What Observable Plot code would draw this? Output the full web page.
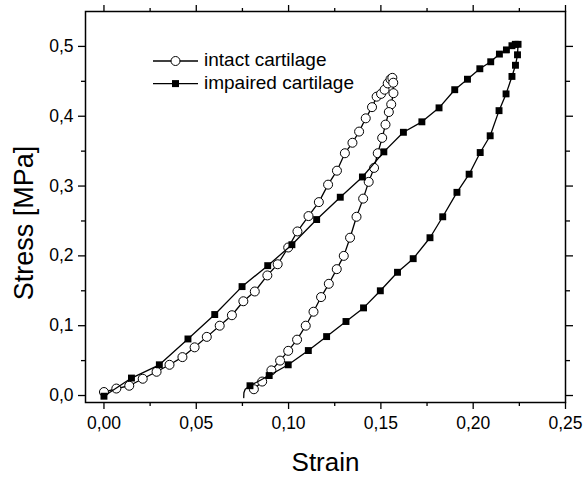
<!DOCTYPE html>
<html><head><meta charset="utf-8">
<script src="https://cdn.jsdelivr.net/npm/d3@7"></script>
<script src="https://cdn.jsdelivr.net/npm/@observablehq/plot@0.6"></script>
<style>body{margin:0;background:#fff;} svg{display:block}</style>
</head><body><div id="chart"></div>
<script>
// Intact cartilage (open circles): loading then unloading
const intactStrain = [0.000,0.0067,0.0137,0.021,0.0285,0.0355,0.0425,0.0491,0.0557,0.0627,0.0693,0.0755,0.0817,0.0885,0.0941,0.0998,0.1048,0.1108,0.1164,0.1214,0.1262,0.1305,0.1346,0.1382,0.1418,0.1452,0.1477,0.1501,0.152,0.1537,0.1552,0.1562,
  0.1567,0.1568,0.1556,0.1543,0.1525,0.1507,0.1483,0.1463,0.1434,0.1404,0.1368,0.1333,0.1299,0.1261,0.1218,0.1176,0.1135,0.1093,0.1046,0.0998,0.0954,0.0907,0.0857,0.0812];
const intactStress = [0.005,0.010,0.014,0.024,0.034,0.044,0.055,0.069,0.084,0.100,0.115,0.135,0.149,0.172,0.188,0.212,0.235,0.257,0.277,0.302,0.322,0.347,0.362,0.378,0.397,0.413,0.428,0.432,0.438,0.447,0.453,0.455,
  0.448,0.433,0.417,0.406,0.388,0.369,0.347,0.326,0.306,0.282,0.256,0.226,0.200,0.181,0.160,0.141,0.120,0.100,0.080,0.064,0.050,0.036,0.020,0.009];
// Impaired cartilage (filled squares): loading then unloading
const impairedStrain = [0.000,0.0149,0.030,0.0455,0.060,0.0748,0.0887,0.1018,0.1152,0.128,0.140,0.1516,0.1622,0.1722,0.1815,0.1900,0.1969,0.2036,0.2095,0.2142,0.2180,0.2210,0.2228,0.2243,
  0.2240,0.2229,0.2210,0.2178,0.2140,0.2092,0.2038,0.1978,0.1912,0.1835,0.1766,0.1675,0.159,0.1497,0.1406,0.1311,0.1206,0.1107,0.0998,0.0895,0.0791];
const impairedStress = [-0.001,0.025,0.044,0.081,0.116,0.156,0.186,0.216,0.252,0.284,0.313,0.349,0.377,0.392,0.412,0.438,0.453,0.468,0.478,0.489,0.495,0.501,0.503,0.503,
  0.488,0.473,0.457,0.432,0.408,0.372,0.348,0.317,0.291,0.256,0.226,0.196,0.1765,0.150,0.1255,0.106,0.0844,0.0644,0.044,0.0286,0.014];
// end of the impaired unloading trace (no symbols)
const impairedTailStrain = [0.0791,0.0765,0.0758,0.0757];
const impairedTailStress = [0.014,0.009,0.004,-0.003];

const xMajor = [0,0.05,0.10,0.15,0.20,0.25];
const xMinor = [0.025,0.075,0.125,0.175,0.225];
const yMajor = [0,0.1,0.2,0.3,0.4,0.5];
const yMinor = [0.05,0.15,0.25,0.35,0.45];
const legendNames = ["intact cartilage","impaired cartilage"];
const xLabel = "Strain";
const yLabel = "Stress [MPa]";

const intact = intactStrain.map((s,i)=>({strain:s, stress:intactStress[i]}));
const impaired = impairedStrain.map((s,i)=>({strain:s, stress:impairedStress[i]}));
const impairedTail = impairedTailStrain.map((s,i)=>({strain:s, stress:impairedTailStress[i]}));

const fmtX = d => d.toFixed(2).replace(".", ",");
const fmtY = d => d.toFixed(1).replace(".", ",");
const blank = () => "";

function legend() {
  const g = d3.create("svg:g");
  legendNames.forEach((name, i) => {
    const y = 61 + i * 22.6;
    g.append("line").attr("x1",153).attr("x2",198).attr("y1",y).attr("y2",y)
      .attr("stroke","#000").attr("stroke-width",1.3);
    if (i === 0) g.append("circle").attr("cx",175.5).attr("cy",y).attr("r",4.5)
      .attr("fill","#fff").attr("stroke","#000").attr("stroke-width",1);
    else g.append("rect").attr("x",172).attr("y",y-3.5).attr("width",7).attr("height",7).attr("fill","#000");
    g.append("text").attr("x",204).attr("y",y).attr("dy","0.28em")
      .attr("text-anchor","start")
      .attr("font-size",19).attr("fill","#000").text(name);
  });
  return g.node();
}

const common = {label:null, stroke:"#000", strokeWidth:1.3};
const chart = Plot.plot({
  width:584, height:477,
  marginLeft:85, marginRight:19, marginTop:11, marginBottom:75,
  style:{fontFamily:"'Liberation Sans', Arial, sans-serif", background:"#fff", color:"#000"},
  x:{domain:[-0.01,0.25]},
  y:{domain:[-0.01,0.55]},
  marks:[
    Plot.axisX({...common, ticks:xMajor, tickSize:7, tickPadding:7, tickFormat:fmtX, fontSize:17.5}),
    Plot.axisX({...common, ticks:xMinor, tickSize:4, tickFormat:blank}),
    Plot.axisX({...common, anchor:"top", ticks:xMajor, tickSize:7, tickFormat:blank}),
    Plot.axisX({...common, anchor:"top", ticks:xMinor, tickSize:4, tickFormat:blank}),
    Plot.axisY({...common, ticks:yMajor, tickSize:7, tickPadding:5, tickFormat:fmtY, fontSize:17.5}),
    Plot.axisY({...common, ticks:yMinor, tickSize:4, tickFormat:blank}),
    Plot.axisY({...common, anchor:"right", ticks:yMajor, tickSize:7, tickFormat:blank}),
    Plot.axisY({...common, anchor:"right", ticks:yMinor, tickSize:4, tickFormat:blank}),
    Plot.frame({stroke:"#000", strokeWidth:1.5}),
    Plot.line(intact, {x:"strain", y:"stress", stroke:"#000", strokeWidth:1.3}),
    Plot.dot(intact, {x:"strain", y:"stress", r:4.5, fill:"#fff", stroke:"#000", strokeWidth:1}),
    Plot.line(impaired, {x:"strain", y:"stress", stroke:"#000", strokeWidth:1.3}),
    Plot.line(impairedTail, {x:"strain", y:"stress", stroke:"#000", strokeWidth:1.3}),
    Plot.dot(impaired, {x:"strain", y:"stress", symbol:"square", r:3.9, fill:"#000", stroke:"none"}),
    Plot.text([xLabel], {text:d=>d, frameAnchor:"bottom", textAnchor:"middle", lineAnchor:"bottom", dy:68, fontSize:26, fill:"#000"}),
    Plot.text([yLabel], {text:d=>d, frameAnchor:"left", textAnchor:"middle", rotate:-90, lineAnchor:"bottom", dx:-53, dy:16, fontSize:27, fill:"#000"}),
    legend
  ]
});
document.getElementById("chart").appendChild(chart);
</script>
</body></html>
